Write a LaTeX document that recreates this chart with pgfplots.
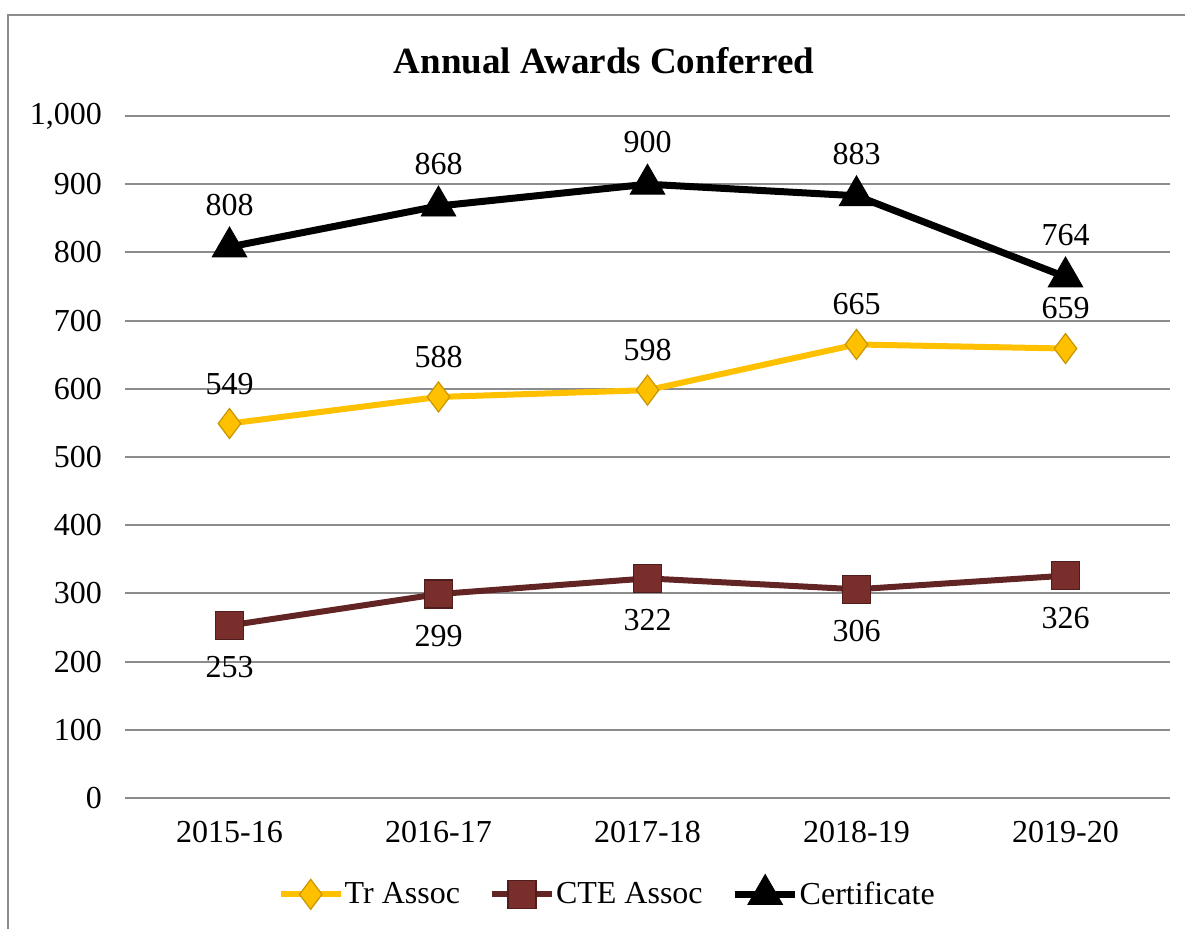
\documentclass[border=0pt]{standalone}
\usepackage{fontspec}
\setmainfont{Liberation Serif}
\usepackage{pgfplots}
\pgfplotsset{compat=1.18}

\definecolor{gold}{HTML}{FFC000}
\definecolor{golddark}{HTML}{C89600}
\definecolor{maroon}{HTML}{632523}
\definecolor{maroonfill}{HTML}{7A2E2C}
\definecolor{gridgray}{HTML}{8C8C8C}

\begin{document}
\begin{tikzpicture}[x=1pt,y=1pt]
% page: 1185 x 929 px, 1 px = 0.5 pt
\useasboundingbox (0,0) rectangle (592.5,464.5);
\draw[gridgray, line width=1pt] (4,0) -- (4,457) -- (592.5,457);
\node[font=\bfseries\fontsize{18.5}{22}\selectfont] at (302,434) {Annual Awards Conferred};

\begin{axis}[
    at={(62.5pt,65.5pt)}, anchor=south west,
    scale only axis,
    width=522.5pt, height=341pt,
    xmin=-0.5, xmax=4.5,
    ymin=0, ymax=1000,
    xtick={0,1,2,3,4},
    xticklabels={2015-16,2016-17,2017-18,2018-19,2019-20},
    ytick={0,100,...,1000},
    ymajorgrids=true,
    grid style={gridgray, line width=1pt},
    axis line style={draw=none},
    tick style={draw=none},
    clip=false,
    font=\fontsize{16}{19}\selectfont,
    /pgf/number format/assume math mode=true,
    yticklabel style={/pgf/number format/1000 sep={,}, xshift=-8pt},
    xticklabel style={yshift=-8pt},
    legend columns=3,
    legend style={draw=none, at={(0.461,-0.139)}, anchor=center,
        font=\fontsize{16}{19}\selectfont,
        nodes={inner xsep=0.5pt},
        /tikz/every even column/.append style={column sep=14pt}},
    legend image code/.code={\draw[mark repeat=2,mark phase=2,#1]
        plot coordinates {(0pt,0pt) (15pt,0pt) (30pt,0pt)};},
    nodes near coords,
    point meta=y,
    nodes near coords style={font=\fontsize{16}{19}\selectfont, anchor=center,
        /pgf/number format/fixed, /pgf/number format/precision=0,
        /pgf/number format/assume math mode=true, text=black},
]
\addplot[gold, line width=3pt, mark=diamond*, mark size=7.5pt,
    mark options={fill=gold, draw=golddark, line width=0.6pt},
    nodes near coords style={yshift=20pt}]
    coordinates {(0,549) (1,588) (2,598) (3,665) (4,659)};
\addlegendentry{Tr Assoc}

\addplot[maroon, line width=3pt, mark=square*, mark size=7pt,
    mark options={fill=maroonfill, draw=maroon!80!black, line width=0.6pt},
    nodes near coords style={yshift=-21pt}]
    coordinates {(0,253) (1,299) (2,322) (3,306) (4,326)};
\addlegendentry{CTE Assoc}

\addplot[black, line width=3.5pt, mark=triangle*, mark size=10pt,
    mark options={fill=black, draw=black, line width=0.4pt},
    nodes near coords style={yshift=21pt}]
    coordinates {(0,808) (1,868) (2,900) (3,883) (4,764)};
\addlegendentry{Certificate}
\end{axis}
\end{tikzpicture}
\end{document}
